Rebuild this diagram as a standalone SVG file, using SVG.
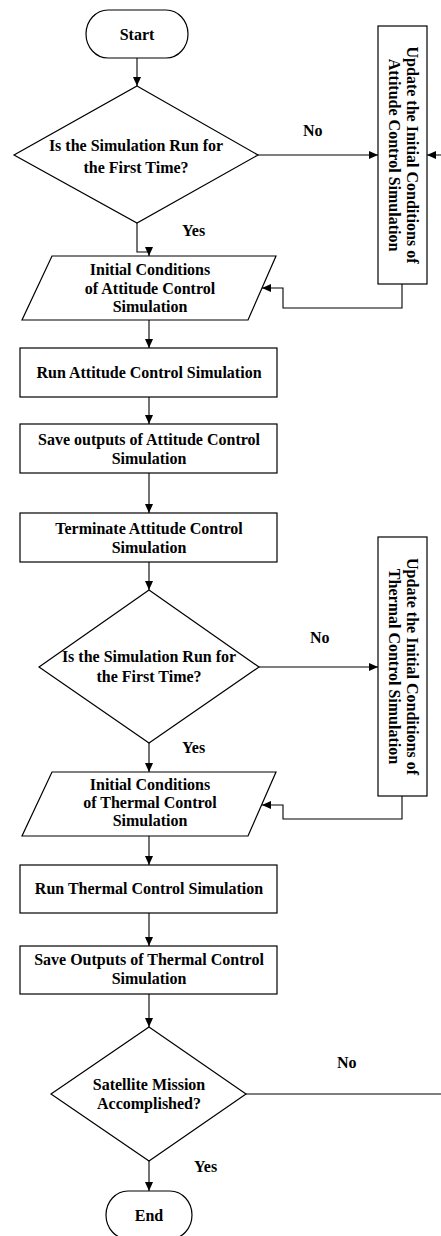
<svg xmlns="http://www.w3.org/2000/svg" width="441" height="1236" viewBox="0 0 441 1236">
  <style>
    .shape { fill: #ffffff; stroke: #000000; stroke-width: 1.2; }
    .t { font-family: "Liberation Serif", "Times New Roman", serif; font-weight: bold; font-size: 16px; fill: #000000; text-anchor: middle; }
    .lbl { font-family: "Liberation Serif", "Times New Roman", serif; font-weight: bold; font-size: 16px; fill: #000000; }
    .conn { fill: none; stroke: #000000; stroke-width: 1.1; marker-end: url(#arrow); }
    .plain { fill: none; stroke: #000000; stroke-width: 1.1; }
  </style>
  <defs>
    <marker id="arrow" markerUnits="userSpaceOnUse" markerWidth="10" markerHeight="9" refX="9" refY="4" orient="auto">
      <path d="M0,0 L9,4 L0,8 Z" fill="#000000"/>
    </marker>
  </defs>
  <rect width="441" height="1236" fill="#ffffff"/>

  <g id="connectors">
    <path class="conn" d="M137,58 V86"/>
    <path class="conn" d="M258,155 H378"/>
    <path class="conn" d="M246,1094 H446 V155 H427"/>
    <path class="conn" d="M137,223 V252 H149 V256"/>
    <path class="conn" d="M402,284 V308 H283 V288 H262"/>
    <path class="conn" d="M149,320 V348"/>
    <path class="conn" d="M149,397 V424"/>
    <path class="conn" d="M149,473 V513"/>
    <path class="conn" d="M149,562 V590"/>
    <path class="conn" d="M259,667 H378"/>
    <path class="conn" d="M149,743 V772"/>
    <path class="conn" d="M402,796 V819 H283 V805 H262"/>
    <path class="conn" d="M149,836 V865"/>
    <path class="conn" d="M149,913 V946"/>
    <path class="conn" d="M149,994 V1027"/>
    <path class="conn" d="M149,1161 V1191"/>
    <text class="lbl" x="303" y="136">No</text>
    <text class="lbl" x="182" y="236">Yes</text>
    <text class="lbl" x="310" y="643">No</text>
    <text class="lbl" x="182" y="752.5">Yes</text>
    <text class="lbl" x="337" y="1067.5">No</text>
    <text class="lbl" x="194" y="1171.5">Yes</text>
  </g>

  <g id="start">
    <rect class="shape" x="86" y="10" width="102" height="48" rx="22" ry="24"/>
    <text class="t" x="137" y="40">Start</text>
  </g>

  <g id="decision1">
    <polygon class="shape" points="137,86 258,155 137,223 14,155"/>
    <text class="t" x="136" y="151">Is the Simulation Run for</text>
    <text class="t" x="136" y="172.5">the First Time?</text>
  </g>

  <g id="update-attitude">
    <rect class="shape" x="378" y="26" width="49" height="258"/>
    <text class="t" transform="translate(406.5,155) rotate(90)">Update the Initial Conditions of</text>
    <text class="t" transform="translate(389,155) rotate(90)">Attitude Control Simulation</text>
  </g>

  <g id="initial-attitude">
    <polygon class="shape" points="52,256 276,256 248,320 22,320"/>
    <text class="t" x="150" y="275">Initial Conditions</text>
    <text class="t" x="150" y="293.5">of Attitude Control</text>
    <text class="t" x="150" y="312">Simulation</text>
  </g>

  <g id="run-attitude">
    <rect class="shape" x="20" y="348" width="257" height="49"/>
    <text class="t" x="149" y="378">Run Attitude Control Simulation</text>
  </g>

  <g id="save-attitude">
    <rect class="shape" x="20" y="424" width="257" height="49"/>
    <text class="t" x="149" y="445">Save outputs of Attitude Control</text>
    <text class="t" x="149" y="464">Simulation</text>
  </g>

  <g id="terminate-attitude">
    <rect class="shape" x="20" y="513" width="257" height="49"/>
    <text class="t" x="149" y="533.5">Terminate Attitude Control</text>
    <text class="t" x="149" y="552.5">Simulation</text>
  </g>

  <g id="decision2">
    <polygon class="shape" points="149,590 259,667 149,743 39,667"/>
    <text class="t" x="149" y="661.5">Is the Simulation Run for</text>
    <text class="t" x="149" y="681.5">the First Time?</text>
  </g>

  <g id="update-thermal">
    <rect class="shape" x="378" y="537" width="49" height="259"/>
    <text class="t" transform="translate(406.5,666.5) rotate(90)">Update the Initial Conditions of</text>
    <text class="t" transform="translate(389,666.5) rotate(90)">Thermal Control Simulation</text>
  </g>

  <g id="initial-thermal">
    <polygon class="shape" points="52,772 276,772 248,836 22,836"/>
    <text class="t" x="150" y="789.5">Initial Conditions</text>
    <text class="t" x="150" y="808">of Thermal Control</text>
    <text class="t" x="150" y="826">Simulation</text>
  </g>

  <g id="run-thermal">
    <rect class="shape" x="20" y="865" width="257" height="48"/>
    <text class="t" x="149" y="893.5">Run Thermal Control Simulation</text>
  </g>

  <g id="save-thermal">
    <rect class="shape" x="20" y="946" width="257" height="48"/>
    <text class="t" x="149" y="965">Save Outputs of Thermal Control</text>
    <text class="t" x="149" y="984">Simulation</text>
  </g>

  <g id="decision3">
    <polygon class="shape" points="149,1027 246,1094 149,1161 51,1094"/>
    <text class="t" x="149" y="1090">Satellite Mission</text>
    <text class="t" x="149" y="1109">Accomplished?</text>
  </g>

  <g id="end">
    <rect class="shape" x="106" y="1191" width="86" height="48" rx="22" ry="24"/>
    <text class="t" x="149" y="1221">End</text>
  </g>
</svg>
